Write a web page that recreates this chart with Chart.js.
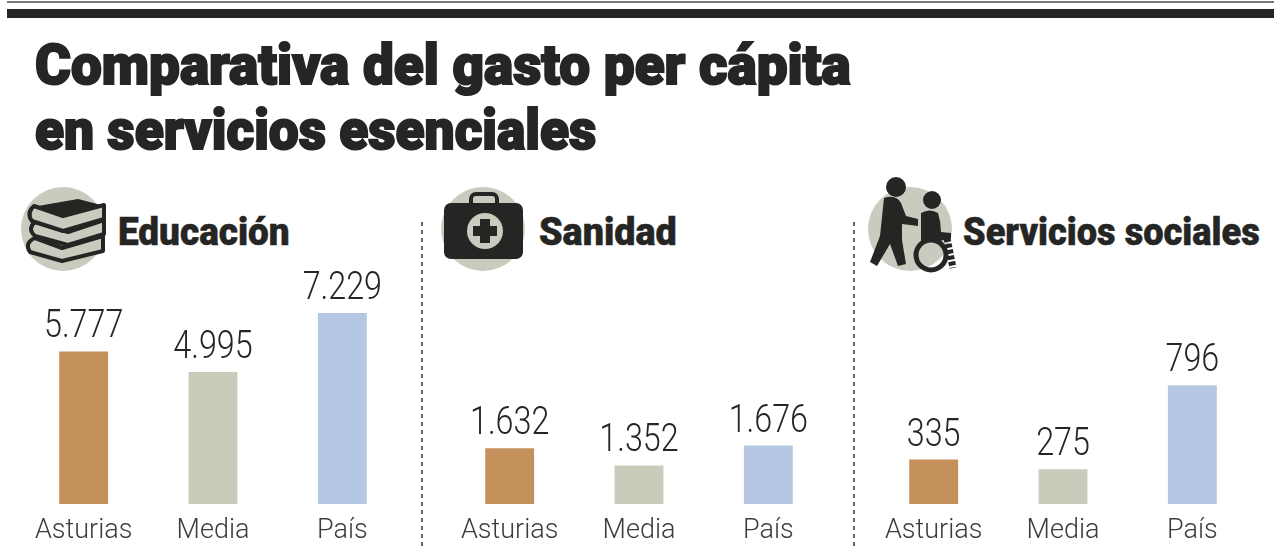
<!DOCTYPE html>
<html lang="es">
<head>
<meta charset="UTF-8">
<title>Comparativa del gasto per cápita</title>
<script src="https://cdn.jsdelivr.net/npm/chart.js@4/dist/chart.umd.min.js"></script>
<style>
  html, body { margin: 0; padding: 0; background: #fff; }
  body { position: relative; width: 1280px; height: 548px; overflow: hidden; color: #252624; font-family: Roboto, sans-serif; }
  .abs { position: absolute; }
  .rule1 { left: 7px; width: 1267px; top: 1px; height: 2px; background: #777; }
  .rule2 { left: 7px; width: 1267px; top: 9px; height: 9px; background: #252624; }
  .title { left: 35px; font-size: 56px; font-weight: 900; line-height: 65px; white-space: nowrap; transform-origin: left top; -webkit-text-stroke: 2px #252624; }
  .head { font-size: 38px; font-weight: 900; line-height: 44px; white-space: nowrap; transform-origin: left top; -webkit-text-stroke: .5px #252624; }
  .sep { top: 222px; height: 324px; width: 2px; background: repeating-linear-gradient(to bottom, #666 0 4px, transparent 4px 8px); }
  canvas { position: absolute; }
</style>
</head>
<body>
<div class="abs rule1"></div>
<div class="abs rule2"></div>
<div class="abs title" id="t1" style="top:33px">Comparativa del gasto per cápita</div>
<div class="abs title" id="t2" style="top:98px">en servicios esenciales</div>

<svg class="abs" style="left:0;top:170px" width="1280" height="120" viewBox="0 170 1280 120">
  <!-- libros -->
  <circle cx="63" cy="229" r="42" fill="#c9cbbf"/>
  <g fill="#c9cbbf" stroke="#252624" stroke-width="4" stroke-linejoin="round">
    <path d="M35 238 L62 248 L103 236 L103 251 L62 261 L30 252 Q24 243 35 238Z"/>
    <path d="M35 222 L68 232 L104 220 L104 234 L68 245 L35 236 Q27 229 35 222Z"/>
    <path d="M34 206 L63 216 L104 205 L104 219 L63 231 L32 221 Q26 213 34 206Z"/>
  </g>
  <path d="M32 207 L78 199 L105 206 L63 217Z" fill="#252624"/>
  <!-- maletin -->
  <circle cx="483" cy="229" r="42" fill="#c9cbbf"/>
  <rect x="471" y="194" width="26" height="16" rx="5" fill="none" stroke="#252624" stroke-width="4"/>
  <rect x="444" y="203" width="79" height="56" rx="7" fill="#252624"/>
  <circle cx="485" cy="231" r="18" fill="#c9cbbf"/>
  <path d="M480 219h10v7h7v10h-7v7h-10v-7h-7v-10h7z" fill="#252624"/>
  <!-- servicios sociales -->
  <circle cx="910" cy="229" r="42" fill="#c9cbbf"/>
  <g fill="#252624">
    <circle cx="896" cy="187" r="10"/>
    <circle cx="932" cy="200" r="9"/>
    <path d="M884 198 Q896 194 901 203 L906 216 L918 219 L918 226 L902 224 L902 240 L906 264 L898 266 L890 244 L877 266 L870 262 L880 236Z"/>
    <path d="M921 213 Q930 208 938 213 Q941 222 941 232 L951 233 L951 238 L940 241 L921 242Z"/>
  </g>
  <circle cx="931" cy="255" r="15" fill="none" stroke="#252624" stroke-width="5"/>
  <path d="M947 238 L953 268" stroke="#252624" stroke-width="7" stroke-dasharray="4 2" fill="none"/>
</svg>

<div class="abs head" id="h1" style="left:118px;top:210px">Educación</div>
<div class="abs head" id="h2" style="left:539px;top:210px">Sanidad</div>
<div class="abs head" id="h3" style="left:963px;top:210px">Servicios sociales</div>

<div class="abs sep" style="left:421px"></div>
<div class="abs sep" style="left:853px"></div>

<canvas id="educacion"></canvas>
<canvas id="sanidad"></canvas>
<canvas id="servicios"></canvas>

<script>
const categorias = ['Asturias', 'Media', 'País'];
const educacion = [5777, 4995, 7229];
const sanidad = [1632, 1352, 1676];
const servicios = [335, 275, 796];
const colores = ['#c4915c', '#c9cbbb', '#b5c7e2'];

// el original no dibuja las barras a escala, cada panel lleva su eje y se ajusta a ojo
function etiqueta(v) {
    return String(v).replace(/\B(?=(\d{3})+$)/g, '.');
}

const valoresArriba = {
    id: 'valoresArriba',
    afterDatasetsDraw(chart) {
        const ctx = chart.ctx;
        const barras = chart.getDatasetMeta(0).data;
        ctx.save();
        ctx.font = '300 38px Roboto';
        ctx.fillStyle = '#252624';
        ctx.textAlign = 'center';
        ctx.textBaseline = 'alphabetic';
        barras.forEach((b, i) => {
            ctx.save();
            ctx.translate(b.x, b.y - 14);
            ctx.scale(0.85, 1);
            ctx.fillText(etiqueta(chart.data.datasets[0].data[i]), 0, 0);
            ctx.restore();
        });
        ctx.restore();
    }
};

function crearPanel(id, izquierda, datos, min, max) {
    const lienzo = document.getElementById(id);
    lienzo.style.left = izquierda + 'px';
    lienzo.style.top = '260px';
    lienzo.style.width = '388px';
    lienzo.style.height = '288px';
    new Chart(lienzo, {
        type: 'bar',
        data: {
            labels: categorias,
            datasets: [{
                data: datos,
                backgroundColor: colores,
                barPercentage: 0.378,
                categoryPercentage: 1
            }]
        },
        options: {
            responsive: false,
            animation: false,
            layout: { padding: 0 },
            plugins: { legend: { display: false }, tooltip: { enabled: false } },
            scales: {
                x: {
                    grid: { display: false },
                    border: { display: false },
                    afterFit(s) { s.height = 44; },
                    ticks: {
                        color: '#3c3d3b',
                        padding: 3,
                        maxRotation: 0,
                        autoSkip: false,
                        font: { family: 'Roboto', size: 27, weight: '300' }
                    }
                },
                y: { display: false, min: min, max: max }
            }
        },
        plugins: [valoresArriba]
    });
}

for (const c of document.querySelectorAll('canvas')) { c.width = 388; c.height = 288; }
crearPanel('educacion', 19, educacion, 0, 9240);
crearPanel('sanidad', 445, sanidad, 725, 4692);
crearPanel('servicios', 869, servicios, 60, 1571);

// anchos de los titulos medidos en la imagen
const anchos = { t1: 816, t2: 561, h1: 172, h2: 138, h3: 297 };
for (const id in anchos) {
    const el = document.getElementById(id);
    el.style.transform = 'scaleX(' + (anchos[id] / el.offsetWidth) + ')';
}
</script>
</body>
</html>
